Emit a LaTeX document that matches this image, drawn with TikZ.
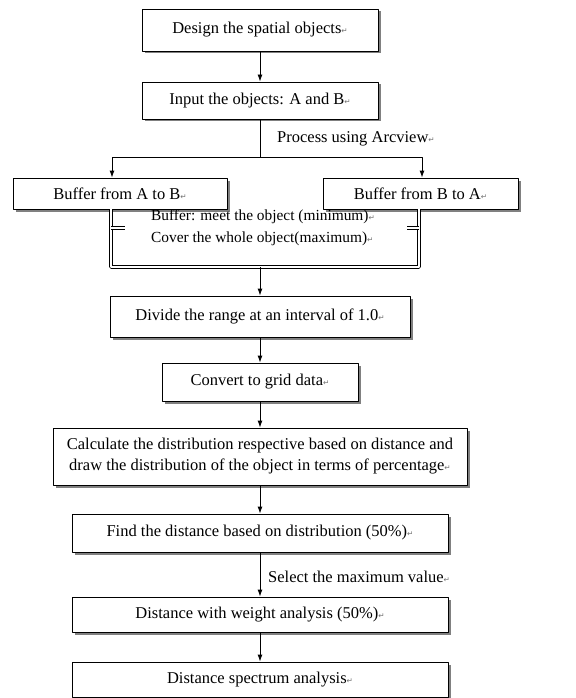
\documentclass[tikz,border=0pt]{standalone}
\usepackage{fontspec}
\setmainfont{Liberation Serif}
\newfontfamily\markfont{DejaVu Sans}
\usetikzlibrary{arrows.meta,shadows}
\newcommand{\retmark}{{\markfont\fontsize{7.5}{7.5}\selectfont\textcolor{black!55}{↵}}}
\begin{document}
\begin{tikzpicture}[x=1pt,y=-1pt,font=\fontsize{16.5}{21}\selectfont,line join=round,>={Latex[length=7pt,width=5pt]},
 box/.style={draw,line width=0.9pt,fill=white,inner sep=2pt,align=center,
  drop shadow={shadow xshift=2.5pt,shadow yshift=-2.5pt,fill=black!50,opacity=1}},
 link/.style={draw,line width=0.9pt},
 bracket/.style={draw,line width=0.75pt,double=white,double distance=2pt}]
 \useasboundingbox (0,0) rectangle (575,698);
 \node[box,minimum width=236pt,minimum height=42pt] (design) at (260,30) {Design the spatial objects\retmark};
 \node[box,minimum width=236pt,minimum height=37pt] (input) at (260,100.5) {Input the objects: A and B\retmark};
 \node[box,minimum width=214pt,minimum height=31pt] (bufab) at (120,193.5) {Buffer from A to B\retmark};
 \node[box,minimum width=195pt,minimum height=31pt] (bufba) at (420.5,193.5) {Buffer from B to A\retmark};
 \node[align=left,inner sep=0pt,font=\fontsize{15.4}{22}\selectfont] (bufnote) at (263,228) {Buffer: meet the object (minimum)\retmark\\Cover the whole object(maximum)\retmark};
 \node[box,minimum width=300pt,minimum height=41pt] (divide) at (260,316.5) {Divide the range at an interval of 1.0\retmark};
 \node[box,minimum width=196pt,minimum height=38pt] (convert) at (260,382) {Convert to grid data\retmark};
 \node[box,minimum width=414pt,minimum height=57pt] (calc) at (260,456.5) {Calculate the distribution respective based on distance and\\draw the distribution of the object in terms of percentage\retmark};
 \node[box,minimum width=376pt,minimum height=38pt] (find) at (260,533) {Find the distance based on distribution (50\%)\retmark};
 \node[box,minimum width=376pt,minimum height=35pt] (weight) at (260,614.5) {Distance with weight analysis (50\%)\retmark};
 \node[box,minimum width=376pt,minimum height=35pt] (spectrum) at (260,679.5) {Distance spectrum analysis\retmark};
 \node[anchor=west,inner sep=0pt] (arcview) at (277,139) {Process using Arcview\retmark};
 \node[anchor=west,inner sep=0pt] (maxval) at (268,577) {Select the maximum value\retmark};
 \coordinate (split) at (260,157);
 \coordinate (jl) at (112,157);
 \coordinate (jr) at (422,157);
 \coordinate (fl) at (111,267);
 \coordinate (fr) at (419,267);
 \coordinate (fc) at (260,267);
 \draw[link,->] (design) -- (input);
 \draw[link] (input) -- (split);
 \draw[link,->] (split) -- (jl) -- (jl |- bufab.north);
 \draw[link,->] (split) -- (jr) -- (jr |- bufba.north);
 \draw[bracket] (fl |- bufab.south) -- (fl) -- (fr) -- (fr |- bufba.south);
 \draw[bracket] (fl |- bufnote.center) -- +(14,0);
 \draw[bracket] (fr |- bufnote.center) -- +(-12,0);
 \draw[link,->] (fc) -- (divide);
 \draw[link,->] (divide) -- (convert);
 \draw[link,->] (convert) -- (calc);
 \draw[link,->] (calc) -- (find);
 \draw[link,->] (find) -- (weight);
 \draw[link,->] (weight) -- (spectrum);
\end{tikzpicture}
\end{document}
